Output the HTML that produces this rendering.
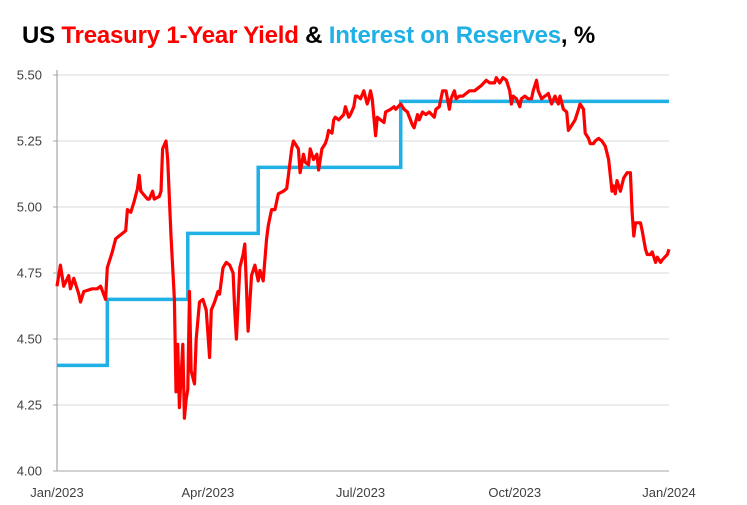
<!DOCTYPE html>
<html><head><meta charset="utf-8"><style>
body{margin:0;background:#fff;width:747px;height:505px;overflow:hidden;font-family:"Liberation Sans",sans-serif}
#title{position:absolute;left:22px;top:22px;font-size:24px;font-weight:bold;white-space:nowrap;letter-spacing:-0.2px}
svg{position:absolute;left:0;top:0}
</style></head><body>
<div id="title">US <span style="color:#ff0000">Treasury 1-Year Yield</span> &amp; <span style="color:#1fb0e6">Interest on Reserves</span>, %</div>
<svg id="chart" width="747" height="505"></svg>
<script>
const yTicks=[4.00,4.25,4.50,4.75,5.00,5.25,5.50];
const xTickLabels=["Jan/2023","Apr/2023","Jul/2023","Oct/2023","Jan/2024"];
const xTickDays=[0,90,181,273,365];
const yieldDays=[0,2,4,7,8,10,13,14,16,21,24,26,29,30,33,35,39,41,42,44,46,48,49,50,54,55,57,58,61,62,63,65,66,68,70,71,72,73,75,76,77,78,79,80,82,83,85,87,89,91,92,94,96,97,99,101,103,105,106,107,109,111,112,114,116,118,120,121,123,125,126,128,130,132,135,137,138,140,141,144,145,147,148,150,151,153,155,156,158,160,161,162,164,165,166,168,171,172,174,175,177,178,179,181,183,185,186,187,188,190,191,193,195,196,199,201,202,205,207,209,212,213,215,216,218,220,222,225,226,228,230,232,234,235,237,238,240,242,244,246,249,251,253,256,258,261,262,264,266,268,270,271,272,274,276,277,279,281,283,284,286,287,289,291,293,295,297,299,300,302,304,305,307,309,311,312,314,315,317,318,320,321,323,325,327,329,330,331,332,333,334,335,336,338,340,342,343,344,345,348,349,351,352,354,355,357,358,360,361,364,365];
const yieldValues=[4.70,4.78,4.70,4.74,4.69,4.73,4.67,4.64,4.68,4.69,4.69,4.70,4.65,4.77,4.83,4.88,4.90,4.91,4.99,4.98,5.02,5.07,5.12,5.06,5.03,5.03,5.06,5.03,5.04,5.06,5.22,5.25,5.18,4.89,4.65,4.30,4.48,4.24,4.48,4.20,4.27,4.31,4.68,4.38,4.33,4.50,4.64,4.65,4.61,4.43,4.61,4.64,4.68,4.67,4.77,4.79,4.78,4.75,4.61,4.50,4.77,4.82,4.86,4.53,4.74,4.78,4.72,4.76,4.72,4.88,4.93,4.99,4.99,5.05,5.06,5.07,5.12,5.22,5.25,5.22,5.13,5.20,5.17,5.16,5.22,5.18,5.20,5.14,5.22,5.24,5.26,5.29,5.28,5.33,5.34,5.33,5.35,5.38,5.34,5.35,5.38,5.42,5.42,5.41,5.44,5.39,5.41,5.44,5.41,5.27,5.34,5.33,5.32,5.36,5.37,5.38,5.37,5.39,5.37,5.36,5.31,5.30,5.35,5.33,5.36,5.35,5.36,5.34,5.37,5.38,5.44,5.44,5.37,5.41,5.44,5.41,5.42,5.42,5.43,5.44,5.44,5.45,5.46,5.48,5.47,5.47,5.49,5.47,5.49,5.48,5.44,5.39,5.42,5.41,5.38,5.41,5.42,5.41,5.41,5.44,5.48,5.44,5.41,5.42,5.43,5.39,5.42,5.39,5.42,5.37,5.36,5.29,5.31,5.33,5.37,5.39,5.37,5.28,5.26,5.24,5.24,5.25,5.26,5.25,5.23,5.18,5.12,5.06,5.08,5.05,5.10,5.08,5.06,5.11,5.13,5.13,4.98,4.89,4.94,4.94,4.91,4.84,4.82,4.82,4.83,4.79,4.81,4.79,4.80,4.82,4.84];
const iorDays=[0,30,78,120,205,365];
const iorValues=[4.40,4.65,4.90,5.15,5.40];

const NS="http://www.w3.org/2000/svg";
const svg=document.getElementById('chart');
const L=57,R=669,T=75,B=471,yMin=4,yMax=5.5,dMax=365;
const xs=d=>L+(R-L)*d/dMax;
const ys=v=>B-(B-T)*(v-yMin)/(yMax-yMin);
function mk(tag,attrs){const e=document.createElementNS(NS,tag);for(const k in attrs)e.setAttribute(k,attrs[k]);svg.appendChild(e);return e;}

yTicks.forEach(v=>{
  const g=mk('line',{x1:L,x2:R,y1:ys(v),y2:ys(v),stroke:v===yMin?'#a6a6a6':'#d9d9d9','stroke-width':1});
  
  
  const tk=mk('line',{x1:L-4,x2:L,y1:ys(v),y2:ys(v),stroke:'#a6a6a6','stroke-width':1});
  
  
  const t=mk('text',{x:L-15,y:ys(v)+4.5,'text-anchor':'end','font-size':13,fill:'#404040','font-family':'Liberation Sans, sans-serif'});
  t.textContent=v.toFixed(2);
  
  
});
const ax=mk('line',{x1:L,x2:L,y1:T-5,y2:B,stroke:'#a6a6a6','stroke-width':1.2});


xTickLabels.forEach((s,i)=>{
  const t=mk('text',{x:xs(xTickDays[i]),y:497,'text-anchor':'middle','font-size':13,fill:'#404040','font-family':'Liberation Sans, sans-serif'});
  t.textContent=s;
  
  
});
let bp='';
iorValues.forEach((v,i)=>{bp+=(i?'L':'M')+xs(iorDays[i])+','+ys(v)+'L'+xs(iorDays[i+1])+','+ys(v);});
const blue=mk('path',{d:bp,fill:'none',stroke:'#1fb0e6','stroke-width':3.5});


let rp='';
yieldDays.forEach((d,i)=>{rp+=(i?'L':'M')+xs(d).toFixed(1)+','+ys(yieldValues[i]).toFixed(1);});
const red=mk('path',{d:rp,fill:'none',stroke:'#ff0000','stroke-width':3.2,'stroke-linejoin':'round'});


</script>
</body></html>
